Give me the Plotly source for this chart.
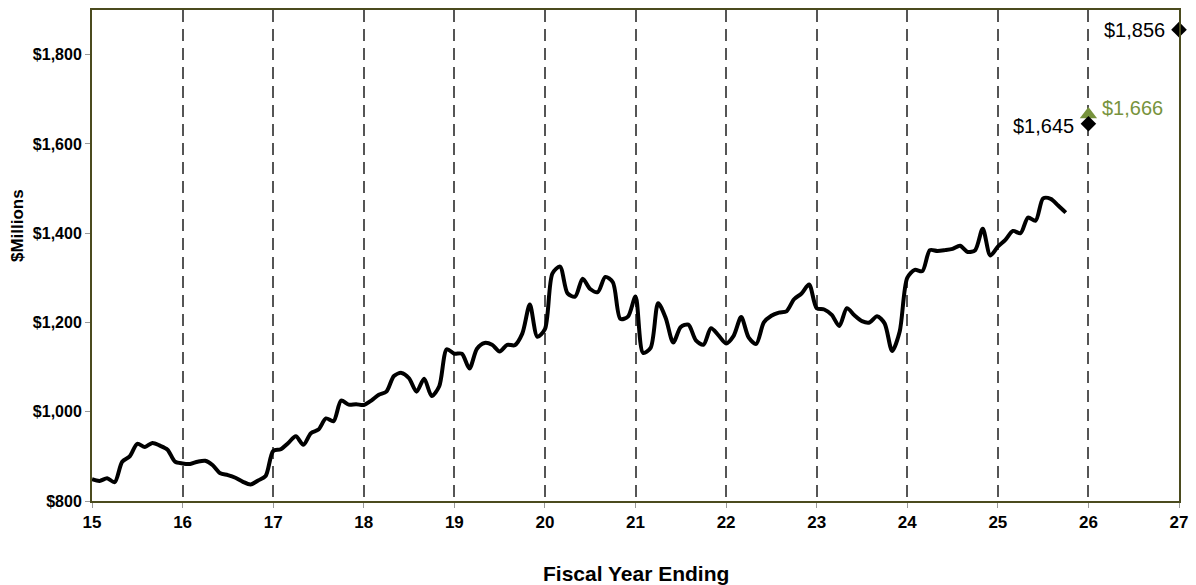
import plotly.graph_objects as go

# monthly values ($ millions), first point is the start of FY 15
monthly_values = [
    849, 845, 851, 842, 888, 900, 928, 921, 930, 924, 915, 888,
    884, 883, 888, 890, 880, 862, 858, 852, 843, 837, 846, 856,
    912, 916, 930, 945, 926, 952, 960, 985, 979, 1025, 1016, 1017,
    1015, 1025, 1038, 1045, 1080, 1087, 1075, 1045, 1074, 1035, 1057, 1140,
    1130, 1130, 1097, 1141, 1154, 1150, 1135, 1150, 1149, 1175, 1240, 1168,
    1185, 1310, 1325, 1265, 1258, 1298, 1275, 1268, 1302, 1290, 1208, 1213,
    1258, 1132, 1143, 1243, 1210, 1155, 1190, 1195, 1160, 1150, 1187, 1171,
    1153, 1170, 1212, 1166, 1152, 1200, 1215, 1222, 1225, 1252, 1265, 1285,
    1232, 1229, 1217, 1192, 1232, 1216, 1203, 1200, 1214, 1198, 1136, 1180,
    1300, 1318, 1315, 1362, 1360, 1362, 1365, 1372, 1358, 1362, 1410, 1350,
    1370, 1385, 1405, 1400, 1435, 1428, 1478, 1477, 1462, 1446,
]
start_year = 15
months = [start_year + i / 12 for i in range(len(monthly_values))]

# projections
diamond_x = [26, 27]
diamond_y = [1645, 1856]
diamond_labels = ["$1,645", "$1,856"]
triangle_x = [26]
triangle_y = [1666]
triangle_labels = ["$1,666"]

year_ticks = list(range(15, 28))
y_ticks = [800, 1000, 1200, 1400, 1600, 1800]
y_tick_text = ["$800", "$1,000", "$1,200", "$1,400", "$1,600", "$1,800"]

green = "#77933C"
frame = "#4b4b1e"
font = "Liberation Sans, Arial"

fig = go.Figure()

fig.add_trace(go.Scatter(
    x=months, y=monthly_values, mode="lines",
    line=dict(color="black", width=4, shape="spline", smoothing=0.8),
    showlegend=False, hoverinfo="skip",
))

fig.add_trace(go.Scatter(
    x=triangle_x, y=triangle_y, mode="markers",
    marker=dict(symbol="triangle-up", size=15, color=green),
    cliponaxis=False, showlegend=False,
))

fig.add_trace(go.Scatter(
    x=diamond_x, y=diamond_y, mode="markers",
    marker=dict(symbol="diamond", size=12, color="black"),
    cliponaxis=False, showlegend=False,
))

for x, y, t in zip(diamond_x, diamond_y, diamond_labels):
    fig.add_annotation(x=x, y=y, text=t, showarrow=False, xanchor="right",
                       xshift=-12, yshift=-2 if x == 26 else 0,
                       font=dict(family=font, size=20, color="black"))

for x, y, t in zip(triangle_x, triangle_y, triangle_labels):
    fig.add_annotation(x=x, y=y, text=t, showarrow=False, xanchor="left",
                       xshift=12, yshift=6,
                       font=dict(family=font, size=20, color=green))

# axis titles
fig.add_annotation(text="Fiscal Year Ending", xref="paper", yref="paper", x=0.5, y=0,
                   xanchor="center", yanchor="middle", yshift=-72, showarrow=False,
                   font=dict(family=font, size=21, color="black", weight="bold"))
fig.add_annotation(text="$Millions", xref="paper", yref="paper", x=0, y=0.56,
                   xanchor="center", yanchor="middle", xshift=-75, textangle=-90,
                   showarrow=False,
                   font=dict(family=font, size=17, color="black", weight="bold"))

fig.update_xaxes(
    range=[15, 27], tickvals=year_ticks, ticktext=[str(v) for v in year_ticks],
    showgrid=True, gridcolor="#555555", gridwidth=2, griddash="12px,7px",
    zeroline=False, showline=True, linecolor=frame, linewidth=2, mirror=True,
    ticks="outside", ticklen=5, tickcolor="#999999",
    tickfont=dict(family=font, size=17, color="black", weight="bold"),
)
fig.update_yaxes(
    range=[800, 1900], tickvals=y_ticks, ticktext=y_tick_text,
    showgrid=False, zeroline=False, showline=True, linecolor=frame, linewidth=2, mirror=True,
    ticks="outside", ticklen=5, tickcolor="#999999",
    tickfont=dict(family=font, size=16, color="black", weight="bold"),
)

fig.update_layout(
    width=1196, height=585,
    margin=dict(l=92, r=12, t=8, b=84),
    paper_bgcolor="white", plot_bgcolor="white",
)

fig.write_html("out.html", config={"displayModeBar": False},
               post_script="document.body.style.margin='0';")
